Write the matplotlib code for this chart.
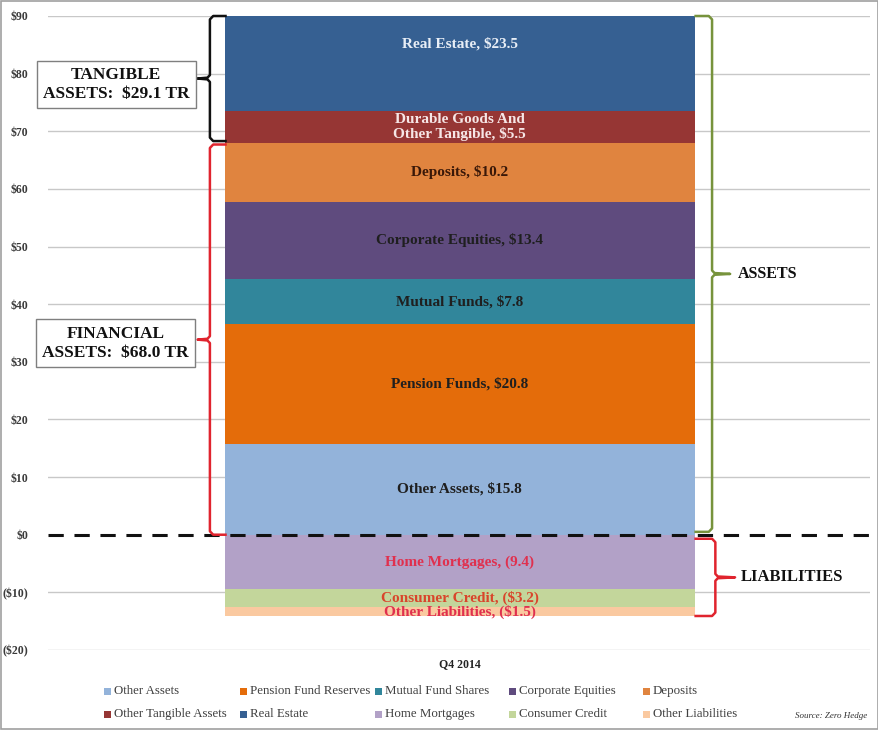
import matplotlib
matplotlib.use("Agg")
import matplotlib.pyplot as plt
from matplotlib.patches import Rectangle

# ---------------- data ----------------
category = "Q4 2014"
asset_names = ["Other Assets", "Pension Funds", "Mutual Funds", "Corporate Equities",
               "Deposits", "Durable Goods And\nOther Tangible", "Real Estate"]
asset_legend = ["Other Assets", "Pension Fund Reserves", "Mutual Fund Shares",
                "Corporate Equities", "Deposits", "Other Tangible Assets", "Real Estate"]
asset_values = [15.8, 20.8, 7.8, 13.4, 10.2, 5.5, 23.5]
asset_colors = ["#93B3DA", "#E46C0A", "#31869B", "#5F4B7E", "#E0843F", "#963634", "#366092"]
asset_text_colors = ["#1F1F1F", "#1F1F1F", "#1F1F1F", "#1F1F1F", "#3A1808", "#F6E6E6", "#E8EEF6"]

liab_names = ["Home Mortgages", "Consumer Credit", "Other Liabilities"]
liab_text = ["Home Mortgages, (9.4)", "Consumer Credit, ($3.2)", "Other Liabilities, ($1.5)"]
liab_values = [9.4, 3.2, 1.5]
liab_colors = ["#B2A1C7", "#C3D69B", "#FAC9A0"]
liab_text_colors = ["#E0304E", "#D9452B", "#E0304E"]

tangible_total = 29.1
financial_total = 68.0
yticks = [90, 80, 70, 60, 50, 40, 30, 20, 10, 0, -10, -20]
ytick_labels = ["$90", "$80", "$70", "$60", "$50", "$40", "$30", "$20", "$10", "$0", "($10)", "($20)"]

# ---------------- figure ----------------
fig = plt.figure(figsize=(8.79, 7.30), dpi=100)
ax = fig.add_axes([0.0546, 0.1096, 0.935, 0.8685])
ymax, ymin = 90, -20
ax.set_ylim(ymin, ymax)
ax.set_xlim(0, 1)

serif = "Liberation Serif"
bar_x, bar_w = 0.501, 0.572

# gridlines
for t in yticks:
    if t != 0:
        ax.axhline(t, color="#C8C8C8", lw=1.0, zorder=0)

# asset bars
bottom = 0.0
for name, val, col, tc in zip(asset_names, asset_values, asset_colors, asset_text_colors):
    ax.bar(bar_x, val, bottom=bottom, width=bar_w, color=col, zorder=2)
    top = bottom + val
    vis_top = min(top, ymax)
    ymid = (bottom + vis_top) / 2
    if top > ymax:
        ymid += 3.5
    lbl = f"{name}, ${val:.1f}"
    ax.text(bar_x, ymid, lbl, ha="center", va="center", fontsize=11, fontweight="bold",
            family=serif, color=tc, linespacing=1.05, zorder=3)
    bottom = top

# liability bars
bottom = 0.0
for name, val, col, txt, tc in zip(liab_names, liab_values, liab_colors, liab_text, liab_text_colors):
    ax.bar(bar_x, -val, bottom=bottom, width=bar_w, color=col, zorder=2)
    ymid = bottom - val / 2
    ax.text(bar_x, ymid, txt, ha="center", va="center", fontsize=11, fontweight="bold",
            family=serif, color=tc, zorder=3)
    bottom = bottom - val
liab_total = bottom

# zero line
ax.axhline(0, color="#111111", lw=2.2, ls=(0, (5, 3.5)), zorder=4)

# axes styling
for s in ax.spines.values():
    s.set_visible(False)
ax.set_yticks(yticks)
ax.set_yticklabels(ytick_labels, fontsize=8.5, fontweight="bold", family=serif, color="#3A3A3A")
ax.tick_params(axis="y", length=0, pad=14)
ax.set_xticks([bar_x])
ax.set_xticklabels([category], fontsize=8.5, fontweight="bold", family=serif, color="#222222")
ax.tick_params(axis="x", length=0, pad=6)

tr = ax.get_yaxis_transform()

def brace(x, xin, xnub, y0, y1, color, side):
    ym = (y0 + y1) / 2
    d = 0.6
    s = 1 if side == "left" else -1
    xs = [xin, x + 0.004 * s, x, x, x - 0.003 * s, xnub, x - 0.003 * s, x, x, x + 0.004 * s, xin]
    ys = [y1, y1, y1 - d, ym + d, ym + 0.15, ym, ym - 0.15, ym - d, y0 + d, y0, y0]
    ax.plot(xs, ys, color=color, lw=1.8, transform=tr, clip_on=False, zorder=5,
            solid_joinstyle="round")
    return ym

# tangible / financial braces (left)
ym_t = brace(0.197, 0.216, 0.182, financial_total + 0.3, ymax, "#111111", "left")
ym_f = brace(0.197, 0.216, 0.182, 0.0, financial_total - 0.3, "#E0242E", "left")

box = dict(boxstyle="square,pad=0.35", fc="white", ec="#7F7F7F", lw=1.0)
ax.text(0.083, ym_t - 1.0, f"TANGIBLE\nASSETS:  ${tangible_total:.1f} TR", transform=tr,
        ha="center", va="center", fontsize=12.5, fontweight="bold", family=serif,
        color="#111111", bbox=box, clip_on=False, zorder=6, linespacing=1.25)
ax.text(0.082, ym_f - 0.6, f"FINANCIAL\nASSETS:  ${financial_total:.1f} TR", transform=tr,
        ha="center", va="center", fontsize=12.5, fontweight="bold", family=serif,
        color="#111111", bbox=box, clip_on=False, zorder=6, linespacing=1.25)

# assets / liabilities braces (right)
ym_a = brace(0.808, 0.788, 0.830, 0.5, ymax, "#77933C", "right")
ym_l = brace(0.812, 0.788, 0.836, liab_total, -0.7, "#E0242E", "right")
ax.text(0.839, ym_a, "ASSETS", transform=tr, ha="left", va="center", fontsize=11.5,
        fontweight="bold", family=serif, color="#111111")
ax.text(0.843, ym_l, "LIABILITIES", transform=tr, ha="left", va="center", fontsize=12,
        fontweight="bold", family=serif, color="#111111")

# legend (two rows, five columns)
leg_names = asset_legend[:5] + asset_legend[5:] + liab_names
leg_colors = asset_colors[:5] + asset_colors[5:] + liab_colors
col_x = [104, 240, 375, 509, 643]
row_y = [691, 714]
W, H = 879, 730
for i, (n, c) in enumerate(zip(leg_names, leg_colors)):
    r, k = divmod(i, 5)
    x = col_x[k] / W
    y = 1 - row_y[r] / H
    fig.patches.append(Rectangle((x, y - 3.5 / H), 7 / W, 7 / H, transform=fig.transFigure,
                                 fc=c, ec="none"))
    fig.text(x + 10 / W, y, n, family=serif, fontsize=9.3, color="#404040",
             ha="left", va="center")

fig.text(0.905, 1 - 716 / H, "Source: Zero Hedge", fontsize=6.5, style="italic", family=serif,
         color="#333333", ha="left", va="center")

# outer frame
fig.patches.append(Rectangle((0.001, 0.001), 0.998, 0.998, transform=fig.transFigure,
                             fill=False, ec="#A0A0A0", lw=1.2))

fig.savefig("out.png", dpi=100)
